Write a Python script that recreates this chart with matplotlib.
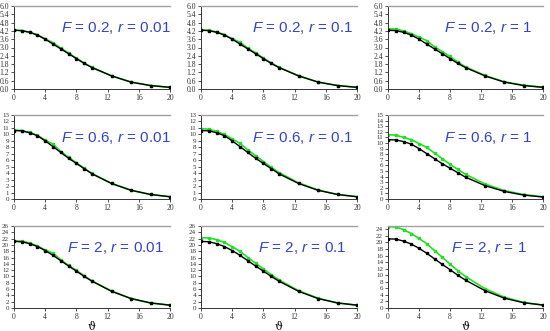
import numpy as np
import matplotlib
matplotlib.use("Agg")
import matplotlib.pyplot as plt

plt.rcParams["mathtext.fontset"] = "custom"
plt.rcParams["mathtext.it"] = "Liberation Sans:italic"
plt.rcParams["mathtext.rm"] = "Liberation Sans"

# x grid (theta)
theta = [0, 1, 2, 3, 4, 5, 6, 7, 8, 9, 10, 12.5, 15, 17.5, 20]

# black curves (one per F)
black_02 = [4.25, 4.22, 4.1, 3.9, 3.6, 3.25, 2.9, 2.55, 2.2, 1.85, 1.55, 0.95, 0.5, 0.25, 0.12]
black_06 = [10.6, 10.55, 10.25, 9.8, 9.0, 8.1, 7.2, 6.3, 5.5, 4.7, 3.9, 2.4, 1.35, 0.7, 0.35]
black_2 = [21.1, 21.0, 20.4, 19.5, 18.2, 16.7, 15.0, 13.3, 11.7, 10.0, 8.5, 5.3, 3.0, 1.6, 0.9]

# green curves
green_02_001 = [4.25, 4.22, 4.1, 3.92, 3.62, 3.35, 2.95, 2.6, 2.22, 1.87, 1.56, 0.95, 0.5, 0.25, 0.12]
green_02_01 = [4.27, 4.24, 4.12, 3.93, 3.63, 3.38, 2.95, 2.62, 2.23, 1.88, 1.57, 0.96, 0.5, 0.25, 0.12]
green_02_1 = [4.35, 4.33, 4.2, 4.0, 3.75, 3.5, 3.05, 2.7, 2.35, 1.95, 1.6, 0.98, 0.52, 0.27, 0.13]
green_06_001 = [10.65, 10.6, 10.3, 9.85, 9.1, 8.5, 7.35, 6.45, 5.6, 4.75, 3.95, 2.42, 1.36, 0.7, 0.35]
green_06_01 = [10.9, 10.8, 10.45, 10.0, 9.3, 8.6, 7.6, 6.7, 5.8, 4.9, 4.1, 2.5, 1.4, 0.7, 0.35]
green_06_1 = [11.5, 11.4, 11.0, 10.6, 9.9, 9.2, 8.2, 7.2, 6.2, 5.3, 4.4, 2.7, 1.5, 0.8, 0.4]
green_2_001 = [21.3, 21.2, 20.6, 19.7, 18.4, 17.4, 15.3, 13.5, 11.9, 10.2, 8.6, 5.4, 3.0, 1.6, 0.9]
green_2_01 = [22.3, 22.2, 21.7, 20.8, 19.4, 18.0, 16.0, 14.2, 12.4, 10.6, 8.9, 5.5, 3.1, 1.6, 0.9]
green_2_1 = [24.8, 24.7, 23.9, 22.7, 21.2, 19.6, 17.5, 15.5, 13.4, 11.4, 9.6, 5.9, 3.3, 1.7, 0.9]

labels = [["0.2", "0.01"], ["0.2", "0.1"], ["0.2", "1"],
          ["0.6", "0.01"], ["0.6", "0.1"], ["0.6", "1"],
          ["2", "0.01"], ["2", "0.1"], ["2", "1"]]
blacks = [black_02] * 3 + [black_06] * 3 + [black_2] * 3
greens = [green_02_001, green_02_01, green_02_1,
          green_06_001, green_06_01, green_06_1,
          green_2_001, green_2_01, green_2_1]
ylims = [6, 6, 6, 13, 13, 15, 26, 26, 25]
ysteps = [0.6, 0.6, 0.6, 1, 1, 1, 2, 2, 2]

W, H = 550, 331
cols = [(14, 170), (201, 357), (388, 543)]
rows = [(6, 89), (115, 199), (226, 308)]

fig = plt.figure(figsize=(W / 100, H / 100), dpi=100)

for i in range(9):
    r, c = divmod(i, 3)
    x0, x1 = cols[c]
    y0, y1 = rows[r]
    ax = fig.add_axes([x0 / W, 1 - y1 / H, (x1 - x0) / W, (y1 - y0) / H])
    ax.plot(theta, greens[i], color="#22e022", lw=1.2, marker="s", ms=1.8, zorder=2)
    ax.plot(theta, blacks[i], color="black", lw=1.0, marker="s", ms=1.8, zorder=3)
    ax.set_xlim(0, 20)
    ax.set_ylim(0, ylims[i])
    ax.set_xticks(np.arange(0, 21, 4))
    yt = np.arange(0, ylims[i] + 1e-6, ysteps[i])
    ax.set_yticks(yt)
    if ysteps[i] < 1:
        ax.set_yticklabels(["%.1f" % v for v in yt])
    else:
        ax.set_yticklabels(["%d" % v for v in yt])
    for lab in ax.get_xticklabels() + ax.get_yticklabels():
        lab.set_fontfamily("Liberation Serif")
        lab.set_fontsize(5.5)
    for lab in ax.get_yticklabels():
        if ylims[i] > 6:
            lab.set_fontsize(5)
    ax.tick_params(length=2, width=0.6, pad=1.5, colors="#333333")
    ax.spines["right"].set_visible(False)
    ax.spines["top"].set_color("#a0a0a0")
    ax.spines["top"].set_linewidth(1.0)
    ax.spines["left"].set_color("#333333")
    ax.spines["bottom"].set_color("#333333")
    ax.spines["left"].set_linewidth(0.7)
    ax.spines["bottom"].set_linewidth(0.7)
    F, rv = labels[i]
    ax.text(0.65, 0.73, "$F$ = %s, $r$ = %s" % (F, rv), transform=ax.transAxes,
            ha="center", va="center", color="#3344cc", fontsize=11,
            family="Liberation Sans")
    if r == 2:
        ax.set_xlabel("ϑ", fontfamily="DejaVu Serif", fontsize=8, labelpad=1)

fig.savefig("out.png", dpi=100)
